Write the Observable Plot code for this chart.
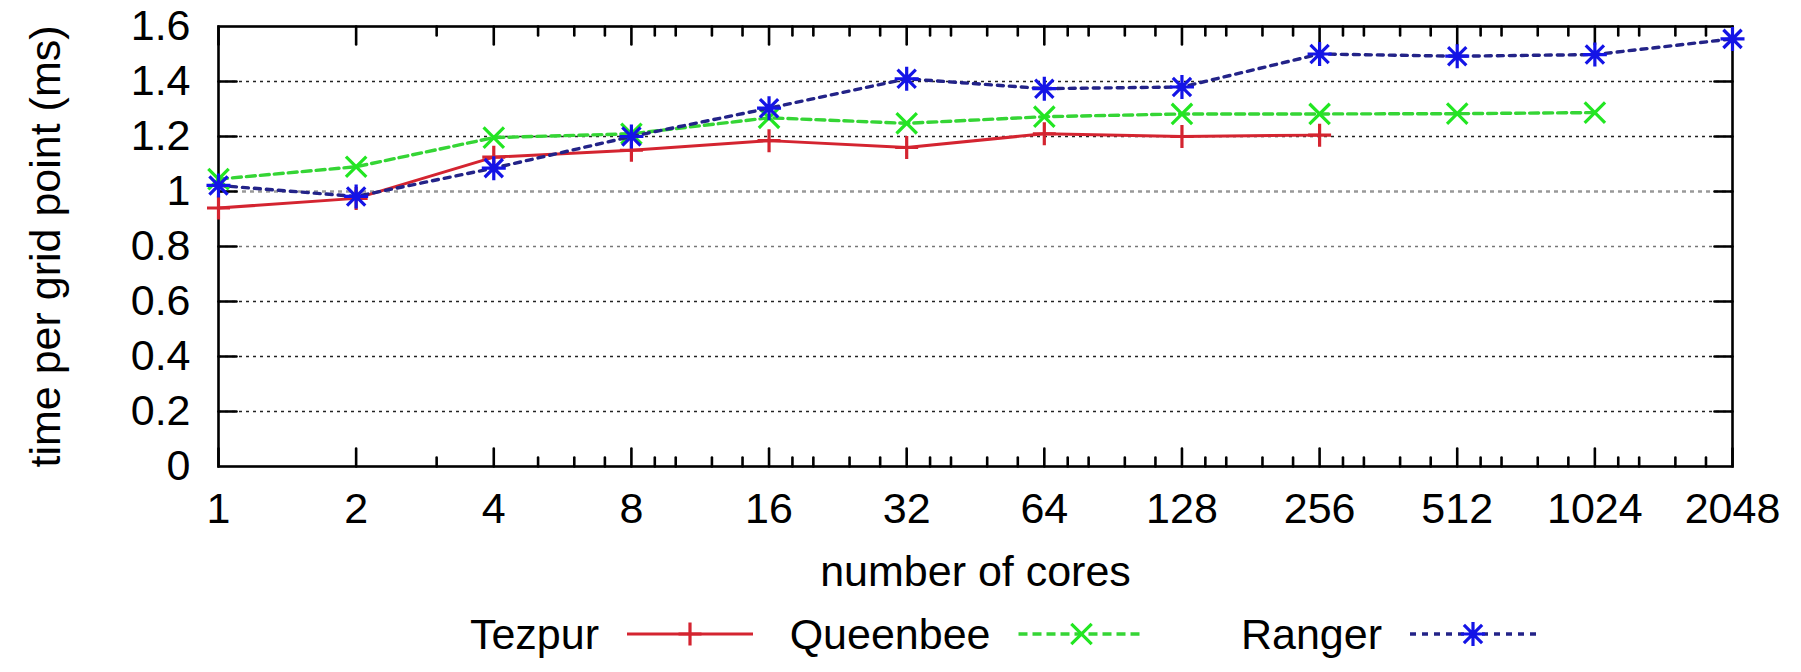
<!DOCTYPE html>
<html><head><meta charset="utf-8">
<script src="https://cdn.jsdelivr.net/npm/d3@7"></script>
<script src="https://cdn.jsdelivr.net/npm/@observablehq/plot@0.6"></script>
<style>
body{margin:0;background:#fff;}
#chart{width:1801px;font-family:"Liberation Sans",Arial,Helvetica,sans-serif;}
svg{display:block;}
</style>
</head><body><div id="chart"></div>
<script>
// ---- data ----
const cores = [1, 2, 4, 8, 16, 32, 64, 128, 256, 512, 1024, 2048];
const tezpur = [0.94, 0.975, 1.125, 1.15, 1.185, 1.16, 1.21, 1.20, 1.205];
const queenbee = [1.045, 1.09, 1.196, 1.21, 1.268, 1.248, 1.272, 1.282, 1.282, 1.283, 1.287];
const ranger = [1.022, 0.982, 1.085, 1.20, 1.303, 1.41, 1.374, 1.38, 1.50, 1.492, 1.498, 1.555];
const seriesNames = ["Tezpur", "Queenbee", "Ranger"];
const xTickLabels = [1, 2, 4, 8, 16, 32, 64, 128, 256, 512, 1024, 2048];
const yTickLabels = [0, 0.2, 0.4, 0.6, 0.8, 1, 1.2, 1.4, 1.6];
const minorTickFactors = [1.125, 1.25, 1.5, 1.75];
const xTitle = "number of cores";
const yTitle = "time per grid point (ms)";

// ---- derived tables ----
const rows = (vals) => vals.map((t, i) => ({cores: cores[i], t}));
const seriesData = [rows(tezpur), rows(queenbee), rows(ranger)];
const minorTicks = xTickLabels.slice(0, -1)
  .flatMap(m => minorTickFactors.map(f => m * f))
  .filter(v => Number.isInteger(v));
const innerY = yTickLabels.slice(1, -1);

// ---- symbols ----
const rad = (size) => Math.sqrt(size / Math.PI);
const symPlus = {draw(c, s) { const r = rad(s); c.moveTo(-r, 0); c.lineTo(r, 0); c.moveTo(0, -r); c.lineTo(0, r); }};
const symTimes = {draw(c, s) { const r = rad(s) * 0.85; c.moveTo(-r, -r); c.lineTo(r, r); c.moveTo(-r, r); c.lineTo(r, -r); }};
const symStar = {draw(c, s) { symPlus.draw(c, s); symTimes.draw(c, s * 0.8); }};
const tickShape = {draw(c, l) { c.moveTo(0, 0); c.lineTo(0, -l); }};

const styles = [
  {line: "#d42430", mark: "#d42430", dash: null, width: 3, symbol: symPlus, r: 11.5},
  {line: "#35d535", mark: "#22e622", dash: "9,5", width: 3.4, symbol: symTimes, r: 12},
  {line: "#232388", mark: "#1414e6", dash: "6,6", width: 3.4, symbol: symStar, r: 12}
];

const FONT = 43;
const W = 1801, H = 605;

const marks = [
  Plot.gridY([0.2, 0.4, 0.6, 1.2, 1.4], {stroke: "#222", strokeOpacity: 1, strokeWidth: 1.4, strokeDasharray: "3,4"}),
  Plot.gridY([0.8], {stroke: "#777", strokeOpacity: 1, strokeWidth: 1.3, strokeDasharray: "3,4"}),
  Plot.gridY([1], {stroke: "#999", strokeOpacity: 1, strokeWidth: 2.6, strokeDasharray: "4,4"}),
  // x ticks (inward, bottom & top)
  Plot.vector(xTickLabels, {x: d => d, frameAnchor: "bottom", rotate: 0, length: 18, anchor: "start", shape: tickShape, stroke: "black", strokeWidth: 2.6}),
  Plot.vector(minorTicks, {x: d => d, frameAnchor: "bottom", rotate: 0, length: 9, anchor: "start", shape: tickShape, stroke: "black", strokeWidth: 2.6}),
  Plot.vector(xTickLabels, {x: d => d, frameAnchor: "top", rotate: 180, length: 18, anchor: "start", shape: tickShape, stroke: "black", strokeWidth: 2.6}),
  Plot.vector(minorTicks, {x: d => d, frameAnchor: "top", rotate: 180, length: 9, anchor: "start", shape: tickShape, stroke: "black", strokeWidth: 2.6}),
  // y ticks (inward, left & right)
  Plot.vector(innerY, {y: d => d, frameAnchor: "left", rotate: 90, length: 18, anchor: "start", shape: tickShape, stroke: "black", strokeWidth: 2.6}),
  Plot.vector(innerY, {y: d => d, frameAnchor: "right", rotate: -90, length: 18, anchor: "start", shape: tickShape, stroke: "black", strokeWidth: 2.6}),
  Plot.frame({stroke: "black", strokeWidth: 2.6}),
  Plot.axisX({ticks: xTickLabels, tickFormat: d => String(d), tickSize: 0, tickPadding: 26, label: null, fontSize: FONT, fill: "black"}),
  Plot.axisY({ticks: yTickLabels, tickFormat: d => String(+d.toFixed(1)), tickSize: 0, tickPadding: 28, label: null, fontSize: FONT, fill: "black"}),
  Plot.text([xTitle], {text: d => d, frameAnchor: "bottom", textAnchor: "middle", dy: 119, fontSize: FONT, fill: "black"}),
  Plot.text([yTitle], {text: d => d, frameAnchor: "left", textAnchor: "middle", dx: -172, rotate: -90, fontSize: FONT, fill: "black"})
];
seriesData.forEach((data, i) => {
  const s = styles[i];
  marks.push(Plot.line(data, {x: "cores", y: "t", stroke: s.line, strokeWidth: s.width, strokeDasharray: s.dash}));
  marks.push(Plot.dot(data, {x: "cores", y: "t", symbol: s.symbol, r: s.r, fill: "none", stroke: s.mark, strokeWidth: 3.2}));
});

const chart = Plot.plot({
  width: W, height: H,
  marginLeft: 218, marginRight: 69, marginTop: 26, marginBottom: H - 466,
  x: {type: "log", base: 2, domain: [1, 2048]},
  y: {domain: [0, 1.6]},
  style: {fontFamily: '"Liberation Sans", Arial, Helvetica, sans-serif', fontSize: FONT + "px", color: "black", background: "white", overflow: "visible"},
  marks
});
document.getElementById("chart").appendChild(chart);

// ---- legend (below the plot) ----
const LH = 672 - H;
const leg = d3.create("svg").attr("width", W).attr("height", LH)
  .style("font-family", '"Liberation Sans", Arial, Helvetica, sans-serif');
const cy = 634 - H, firstStart = 627, pitch = 391.5, sampleLen = 126, gap = 28;
seriesNames.forEach((name, i) => {
  const s = styles[i];
  const x1 = firstStart + i * pitch, x2 = x1 + sampleLen;
  leg.append("text").attr("x", x1 - gap).attr("y", cy).attr("dy", "0.36em")
    .attr("text-anchor", "end").attr("font-size", FONT).attr("fill", "black").text(name);
  leg.append("line").attr("x1", x1).attr("x2", x2).attr("y1", cy).attr("y2", cy)
    .attr("stroke", s.line).attr("stroke-width", s.width)
    .attr("stroke-dasharray", s.dash);
  leg.append("path").attr("transform", `translate(${(x1 + x2) / 2},${cy})`)
    .attr("d", d3.symbol(s.symbol, Math.PI * s.r * s.r)())
    .attr("fill", "none").attr("stroke", s.mark).attr("stroke-width", 3.2);
});
document.getElementById("chart").appendChild(leg.node());
</script>
</body></html>
